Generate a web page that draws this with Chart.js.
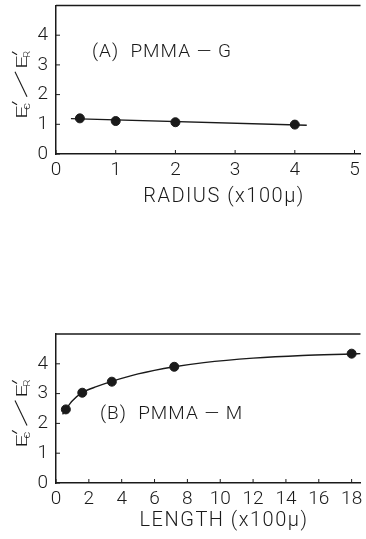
<!DOCTYPE html>
<html>
<head>
<meta charset="utf-8">
<script src="https://cdn.jsdelivr.net/npm/chart.js@4.4.1/dist/chart.umd.min.js"></script>
<style>
  body { margin: 0; background: #fff; }
  #top, #bottom { position: absolute; left: 0; }
  #top { top: 0; }
  #bottom { top: 310px; }
</style>
</head>
<body>
<canvas id="top" width="366" height="215"></canvas>
<canvas id="bottom" width="366" height="229"></canvas>
<script>
// panel A: ratio vs radius
const radius = [0.4, 1, 2, 4];
const ratioA = [1.2, 1.11, 1.07, 0.99];
const fitRadius = [0.25, 4.2];
const fitRatioA = [1.19, 0.97];
const radiusTicks = [0, 1, 2, 3, 4, 5];

// panel B: ratio vs length
const lengths = [0.6, 1.6, 3.4, 7.2, 18.0];
const ratioB = [2.47, 3.03, 3.4, 3.9, 4.34];
const fitLength = [0.4, 0.6, 1.0, 1.6, 2.5, 3.4, 5, 7.2, 9, 12, 15, 18, 18.55];
const fitRatioB = [2.3, 2.47, 2.76, 3.03, 3.24, 3.41, 3.66, 3.9, 4.04, 4.19, 4.28, 4.33, 4.34];
const lengthTicks = [0, 2, 4, 6, 8, 10, 12, 14, 16, 18];

const ratioTicks = [0, 1, 2, 3, 4];

const ink = "#1a1a1a";
const fontFamily = "Roboto, 'Liberation Sans', sans-serif";

function pairs(xs, ys) {
  return xs.map((x, i) => ({ x: x, y: ys[i] }));
}

// rotated y title  E'c / E'R , drawn in text coords (u along, v down)
function drawRatioTitle(c, x0, y0) {
  c.save();
  c.translate(x0, y0);
  c.rotate(-Math.PI / 2);
  c.fillStyle = ink;
  c.strokeStyle = ink;
  c.lineWidth = 1.1;
  c.textAlign = "left";
  c.textBaseline = "alphabetic";
  function glyph(t, u, v, size, sx) {
    c.save();
    c.translate(u, v);
    c.scale(sx, 1);
    c.font = "300 " + size + "px " + fontFamily;
    c.fillText(t, 0, 0);
    c.restore();
  }
  function line(u1, v1, u2, v2) {
    c.beginPath();
    c.moveTo(u1, v1);
    c.lineTo(u2, v2);
    c.stroke();
  }
  glyph("E", 0, 0, 14, 1.65);
  glyph("c", 9, 3, 10, 1.3);
  line(14, -10, 17, -15);
  line(22, 0, 47, -12);
  glyph("E", 50, 0, 14, 1.65);
  glyph("R", 61, 3, 9, 1.2);
  line(64, -10, 67, -15);
  c.restore();
}

// frame extras: top border, inward tick marks, titles, panel label
function framePlugin(xTitle, titleGap, panelLabel, labelPos) {
  return {
    id: "frame",
    afterDraw(chart) {
      const c = chart.ctx;
      const a = chart.chartArea;
      const xs = chart.scales.x;
      const ys = chart.scales.y;
      c.save();
      c.strokeStyle = ink;
      c.lineWidth = 1.5;
      c.beginPath();
      c.moveTo(a.left, a.top);
      c.lineTo(a.right, a.top);
      c.stroke();

      c.lineWidth = 1;
      xs.ticks.forEach(t => {
        const px = xs.getPixelForValue(t.value);
        c.beginPath();
        c.moveTo(px, a.bottom);
        c.lineTo(px, a.bottom - 4);
        c.stroke();
      });
      ys.ticks.forEach(t => {
        const py = ys.getPixelForValue(t.value);
        c.beginPath();
        c.moveTo(a.left, py);
        c.lineTo(a.left + 4, py);
        c.stroke();
      });

      c.fillStyle = ink;
      c.textBaseline = "middle";
      c.textAlign = "center";
      c.letterSpacing = "1.5px";
      c.font = "300 20px " + fontFamily;
      c.fillText(xTitle, 224, a.bottom + titleGap);

      c.textAlign = "left";
      c.letterSpacing = "1px";
      c.font = "300 19px " + fontFamily;
      c.fillText(panelLabel, labelPos[0], labelPos[1]);
      c.letterSpacing = "0px";
      c.restore();

      drawRatioTitle(c, 27, (a.top + a.bottom) / 2 + 39);
    }
  };
}

function makeChart(id, pts, fit, xMax, xTicks, topPad, xHeight, xTitle, titleGap, panelLabel, labelPos, smooth) {
  const ctx = document.getElementById(id).getContext("2d");
  return new Chart(ctx, {
    type: "scatter",
    data: {
      datasets: [
        {
          data: fit,
          showLine: true,
          borderColor: ink,
          borderWidth: 1.4,
          pointRadius: 0,
          tension: smooth ? 0.4 : 0,
          cubicInterpolationMode: smooth ? "monotone" : "default"
        },
        {
          data: pts,
          backgroundColor: ink,
          borderColor: ink,
          pointRadius: 4.5,
          showLine: false
        }
      ]
    },
    options: {
      responsive: false,
      animation: false,
      layout: { padding: { top: topPad, left: 0, right: 0, bottom: 0 } },
      plugins: { legend: { display: false }, tooltip: { enabled: false } },
      scales: {
        x: {
          type: "linear",
          min: 0,
          max: xMax,
          grid: { display: false, drawTicks: false },
          border: { display: true, color: ink, width: 1.5 },
          afterBuildTicks: s => { s.ticks = xTicks.map(v => ({ value: v })); },
          afterFit: s => { s.height = xHeight; s.paddingLeft = 0; s.paddingRight = 0; },
          ticks: { color: ink, padding: 5, maxRotation: 0, autoSkip: false, font: { family: fontFamily, size: 19, weight: "300" } }
        },
        y: {
          min: 0,
          max: 5,
          grid: { display: false, drawTicks: false },
          border: { display: true, color: ink, width: 1.5 },
          afterBuildTicks: s => { s.ticks = ratioTicks.map(v => ({ value: v })); },
          afterFit: s => { s.width = 56; s.paddingTop = 0; s.paddingBottom = 0; },
          ticks: { color: ink, padding: 8, font: { family: fontFamily, size: 19, weight: "300" } }
        }
      }
    },
    plugins: [framePlugin(xTitle, titleGap, panelLabel, labelPos)]
  });
}

makeChart("top", pairs(radius, ratioA), pairs(fitRadius, fitRatioA), 5.1, radiusTicks,
  5, 61, "RADIUS (x100\u03BC)", 43, "(A)  PMMA \u2014 G", [92, 52], false);
makeChart("bottom", pairs(lengths, ratioB), pairs(fitLength, fitRatioB), 18.54, lengthTicks,
  24, 56, "LENGTH (x100\u03BC)", 38, "(B)  PMMA \u2014 M", [100, 104], true);
</script>
</body>
</html>
